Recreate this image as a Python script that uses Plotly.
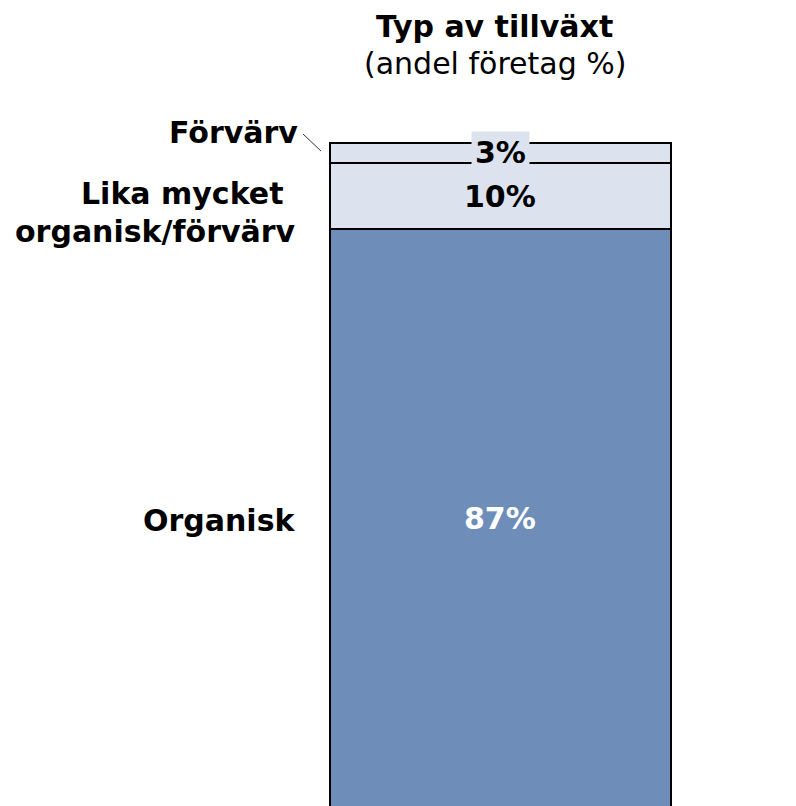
import plotly.graph_objects as go

# Typ av tillväxt, andel företag (%)
categories = ["Organisk", "Lika mycket organisk/förvärv", "Förvärv"]
values = [87, 10, 3]
colors = ["#6E8DB9", "#DCE3EE", "#DCE3EE"]
label_colors = ["white", "black", "black"]

FS = 30
OFF = 8  # sidans marginal i webbläsaren

def py(p):
    # pixel-y på sidan -> paper-koordinat
    return 1 - (p - OFF) / 806

fig = go.Figure()
for cat, val, col in zip(categories, values, colors):
    fig.add_trace(go.Bar(
        x=[500], y=[val], name=cat, width=341,
        marker=dict(color=col, line=dict(color="black", width=2)),
        hoverinfo="skip",
    ))

# procentetiketter i staplarna
base = 0
for val, tc in zip(values, label_colors):
    mid = base + val / 2
    fig.add_annotation(
        x=500, y=mid, xref="x", yref="y", yanchor="middle",
        text=f"<b>{val}%</b>", showarrow=False,
        font=dict(size=FS, color=tc),
        bgcolor="#DCE3EE" if val == 3 else None, borderpad=3 if val == 3 else 1,
    )
    base += val

# kategorietiketter till vänster
left_labels = [
    ("<b>Förvärv</b>", 300, 133),
    ("<b>Lika mycket</b>", 285, 193),
    ("<b>organisk/förvärv</b>", 298, 232),
    ("<b>Organisk</b>", 298, 520),
]
for txt, xr, yp in left_labels:
    fig.add_annotation(x=xr, y=py(yp), xref="x", yref="paper", xanchor="right",
                       yanchor="middle", showarrow=False, text=txt, font=dict(size=FS))

# titel
fig.add_annotation(x=494, y=1, xref="x", yref="paper", yanchor="top", showarrow=False,
                   text="<b>Typ av tillväxt</b>", font=dict(size=FS), borderpad=0)
fig.add_annotation(x=495, y=py(63), xref="x", yref="paper", yanchor="middle", showarrow=False,
                   text="(andel företag %)", font=dict(size=FS))

# hänvisningslinje
fig.add_shape(type="line", x0=303, x1=321, y0=py(134), y1=py(151), xref="x", yref="paper",
              line=dict(color="#333333", width=1))

fig.update_layout(
    barmode="stack",
    width=796, height=806,
    margin=dict(l=0, r=0, t=0, b=0),
    paper_bgcolor="white", plot_bgcolor="white",
    showlegend=False,
    font=dict(family="DejaVu Sans", color="black"),
    xaxis=dict(range=[OFF, 796 + OFF], visible=False),
    yaxis=dict(range=[-0.9, 120.3], visible=False),
)

fig.write_html("out.html")
